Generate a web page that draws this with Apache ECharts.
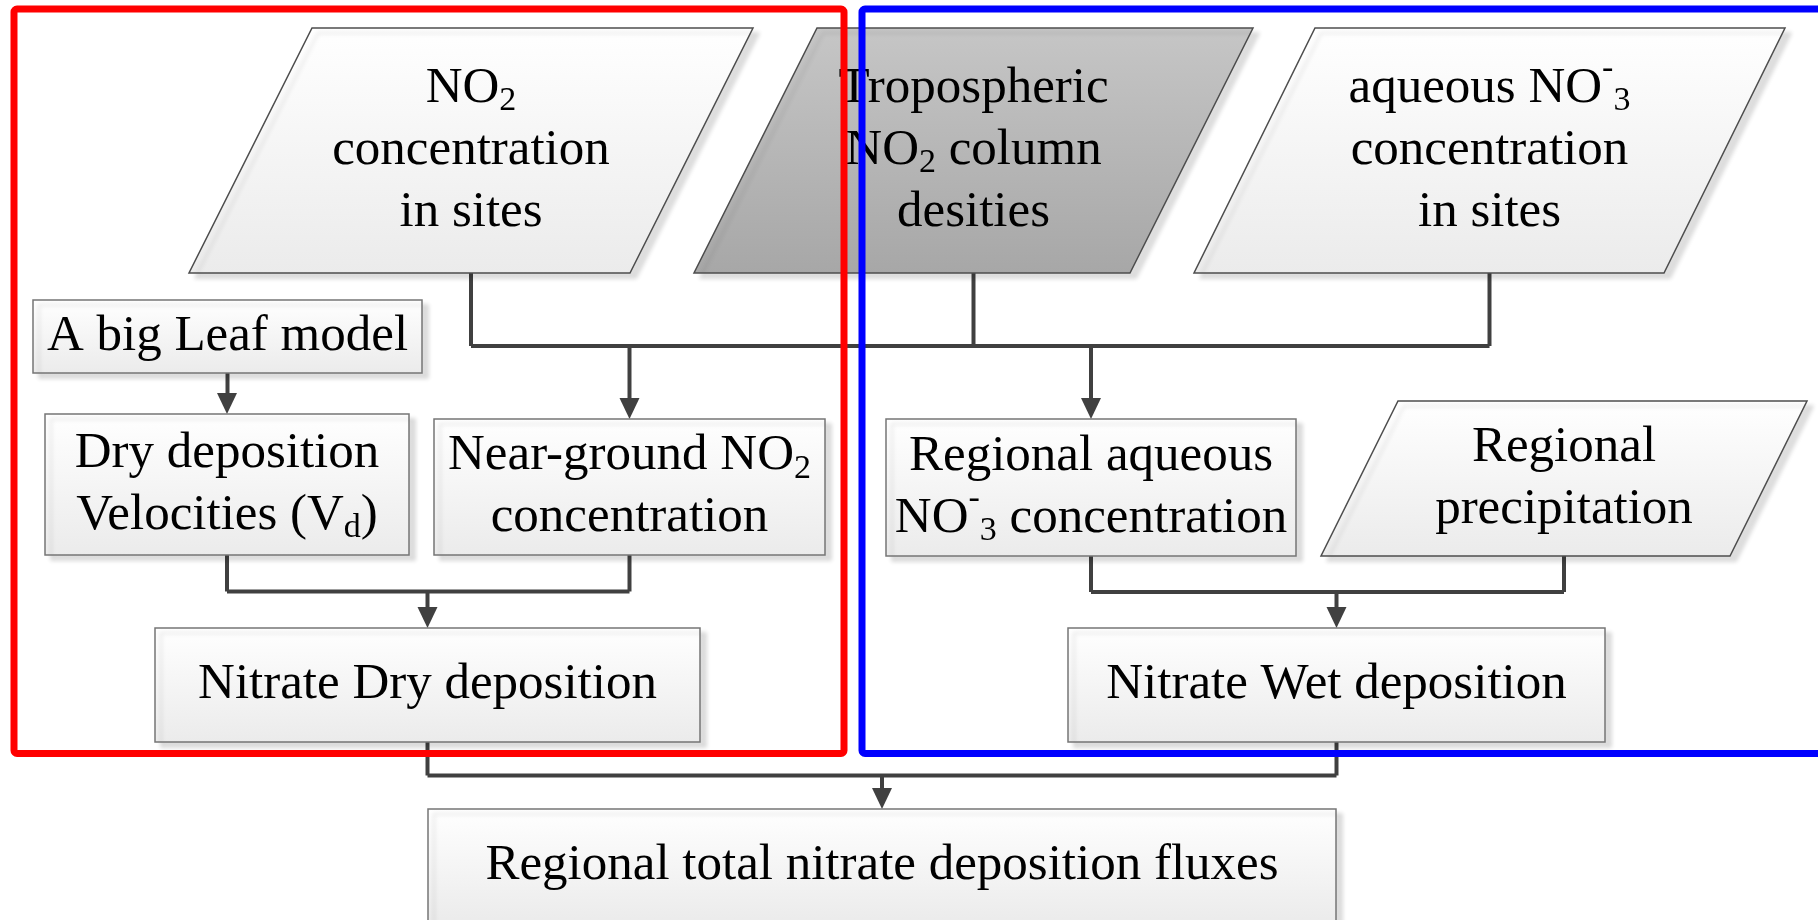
<!DOCTYPE html>
<html>
<head>
<meta charset="utf-8">
<title>Nitrate deposition flowchart</title>
<script src="https://cdn.jsdelivr.net/npm/echarts@6/dist/echarts.min.js"></script>
<style>
  html, body { margin: 0; padding: 0; background: #fff; }
  #chart { width: 1818px; height: 920px; }
</style>
</head>
<body>
<div id="chart"></div>
<script>
// node texts, {sub|..} / {sup|..} mark subscripts and superscripts
const nodeLabels = [
  'NO{sub|2}\nconcentration\nin sites',
  'Tropospheric\nNO{sub|2} column\ndesities',
  'aqueous NO{sup|-}{sub|3}\nconcentration\nin sites',
  'A big Leaf model',
  'Dry deposition\nVelocities (V{sub|d})',
  'Near-ground NO{sub|2}\nconcentration',
  'Regional aqueous\nNO{sup|-}{sub|3} concentration',
  'Regional\nprecipitation',
  'Nitrate Dry deposition',
  'Nitrate Wet deposition',
  'Regional total nitrate deposition fluxes'
];
// data = input (parallelogram), sat = satellite input (grey), proc = process box
const nodeKinds = ['data', 'sat', 'data', 'proc', 'proc', 'proc', 'proc', 'data', 'proc', 'proc', 'proc'];
// [from, to]
const links = [
  [0, 5], [1, 5], [2, 5],
  [0, 6], [1, 6], [2, 6],
  [3, 4],
  [4, 8], [5, 8],
  [6, 9], [7, 9],
  [8, 10], [9, 10]
];

// layout, in picture units: centre x, centre y, width, height, slant
const nodeBoxes = [
  [471, 150.5, 441, 245, 123],
  [973.5, 150.5, 436, 245, 123],
  [1489.5, 150.5, 470, 245, 121],
  [227.5, 336.5, 389, 73, 0],
  [227, 484.5, 364, 141, 0],
  [629.5, 487, 391, 136, 0],
  [1091, 487.5, 410, 137, 0],
  [1564, 478.5, 409, 155, 77],
  [427.5, 685, 545, 114, 0],
  [1336.5, 685, 537, 114, 0],
  [882, 866, 908, 114, 0]
];
// group frames: x0, y0, x1, y1
const frameBoxes = [
  [14, 9, 844, 753.5],
  [862, 9, 1840, 753.5]
];
const frameColors = ['#ff0000', '#0000ff'];

const FONT = 'Liberation Serif';
const ARROW_LEN = 21;
const ARROW_HALF = 10;

// targets that share the same sources are drawn on one bus line
function groupLinks() {
  const srcOf = {};
  links.forEach(([s, t]) => {
    (srcOf[t] = srcOf[t] || []).push(s);
  });
  const groups = [];
  Object.keys(srcOf).forEach(t => {
    const sources = srcOf[t].slice().sort((a, b) => a - b);
    const key = sources.join(',');
    let g = groups.find(x => x.key === key);
    if (!g) {
      g = { key: key, sources: sources, targets: [] };
      groups.push(g);
    }
    g.targets.push(+t);
  });
  return groups;
}
const linkGroups = groupLinks();

function renderNode(params, api) {
  const i = params.dataIndex;
  const box = nodeBoxes[i];
  const c = api.coord([api.value(0), api.value(1)]);
  const sz = api.size([box[2], box[3]]);
  const sk = Math.abs(api.size([box[4], 0])[0]);
  const hw = Math.abs(sz[0]) / 2;
  const hh = Math.abs(sz[1]) / 2;
  const pts = [
    [c[0] - hw + sk / 2, c[1] - hh],
    [c[0] + hw + sk / 2, c[1] - hh],
    [c[0] + hw - sk / 2, c[1] + hh],
    [c[0] - hw - sk / 2, c[1] + hh]
  ];
  const grey = nodeKinds[i] === 'sat';
  const fill = new echarts.graphic.LinearGradient(0, 0, 0, 1, grey
    ? [{ offset: 0, color: '#c6c6c6' }, { offset: 1, color: '#a7a7a7' }]
    : [{ offset: 0, color: '#ffffff' }, { offset: 1, color: '#ebebeb' }]);
  return {
    type: 'group',
    children: [
      {
        type: 'polygon',
        shape: { points: pts },
        style: {
          fill: fill,
          stroke: nodeKinds[i] === 'proc' ? '#767676' : '#4d4d4d',
          lineWidth: 1.5,
          shadowBlur: 4,
          shadowOffsetX: 6,
          shadowOffsetY: 5,
          shadowColor: 'rgba(0,0,0,0.13)'
        }
      },
      {
        type: 'text',
        x: c[0],
        y: c[1],
        style: {
          text: nodeLabels[i],
          fill: '#000',
          fontFamily: FONT,
          fontSize: 51,
          lineHeight: 62,
          align: 'center',
          verticalAlign: 'middle',
          rich: {
            sub: { fontFamily: FONT, fontSize: 34, lineHeight: 62, padding: [26, 0, 0, 0] },
            sup: { fontFamily: FONT, fontSize: 34, lineHeight: 62, padding: [0, 0, 38, 0] }
          }
        }
      }
    ]
  };
}

function renderLinks(params, api) {
  const g = linkGroups[params.dataIndex];
  const bottom = i => nodeBoxes[i][1] + nodeBoxes[i][3] / 2;
  const top = i => nodeBoxes[i][1] - nodeBoxes[i][3] / 2;
  const srcBottom = Math.max.apply(null, g.sources.map(bottom));
  const tgtTop = Math.min.apply(null, g.targets.map(top));
  const busY = (srcBottom + tgtTop) / 2;
  const xs = g.sources.concat(g.targets).map(i => nodeBoxes[i][0]);
  const lineStyle = { stroke: '#404040', lineWidth: 4, fill: null };
  const children = [];
  const seg = pts => children.push({
    type: 'polyline',
    shape: { points: pts.map(p => api.coord(p)) },
    style: lineStyle
  });
  g.sources.forEach(i => seg([[nodeBoxes[i][0], bottom(i)], [nodeBoxes[i][0], busY]]));
  seg([[Math.min.apply(null, xs), busY], [Math.max.apply(null, xs), busY]]);
  g.targets.forEach(i => {
    const x = nodeBoxes[i][0];
    const y = top(i);
    seg([[x, busY], [x, y - ARROW_LEN + 2]]);
    children.push({
      type: 'polygon',
      shape: {
        points: [[x, y], [x - ARROW_HALF, y - ARROW_LEN], [x + ARROW_HALF, y - ARROW_LEN]].map(p => api.coord(p))
      },
      style: { fill: '#404040' }
    });
  });
  return { type: 'group', children: children };
}

function renderFrame(params, api) {
  const p0 = api.coord([api.value(0), api.value(1)]);
  const p1 = api.coord([api.value(2), api.value(3)]);
  return {
    type: 'rect',
    shape: {
      x: Math.min(p0[0], p1[0]),
      y: Math.min(p0[1], p1[1]),
      width: Math.abs(p1[0] - p0[0]),
      height: Math.abs(p1[1] - p0[1]),
      r: 3
    },
    style: { fill: 'none', stroke: frameColors[params.dataIndex], lineWidth: 7 }
  };
}

const chart = echarts.init(document.getElementById('chart'));
const option = {
  animation: false,
  backgroundColor: '#ffffff',
  grid: { left: 0, right: 0, top: 0, bottom: 0 },
  xAxis: { type: 'value', min: 0, max: 1818, show: false },
  yAxis: { type: 'value', min: 0, max: 920, inverse: true, show: false },
  series: [
    {
      type: 'custom',
      name: 'links',
      clip: false,
      z: 1,
      renderItem: renderLinks,
      data: linkGroups.map((g, i) => [i, 0])
    },
    {
      type: 'custom',
      name: 'nodes',
      clip: false,
      z: 2,
      renderItem: renderNode,
      data: nodeBoxes.map(b => [b[0], b[1]])
    },
    {
      type: 'custom',
      name: 'frames',
      clip: false,
      z: 3,
      renderItem: renderFrame,
      data: frameBoxes
    }
  ]
};
chart.setOption(option);
window.addEventListener('resize', () => chart.resize());
</script>
</body>
</html>
